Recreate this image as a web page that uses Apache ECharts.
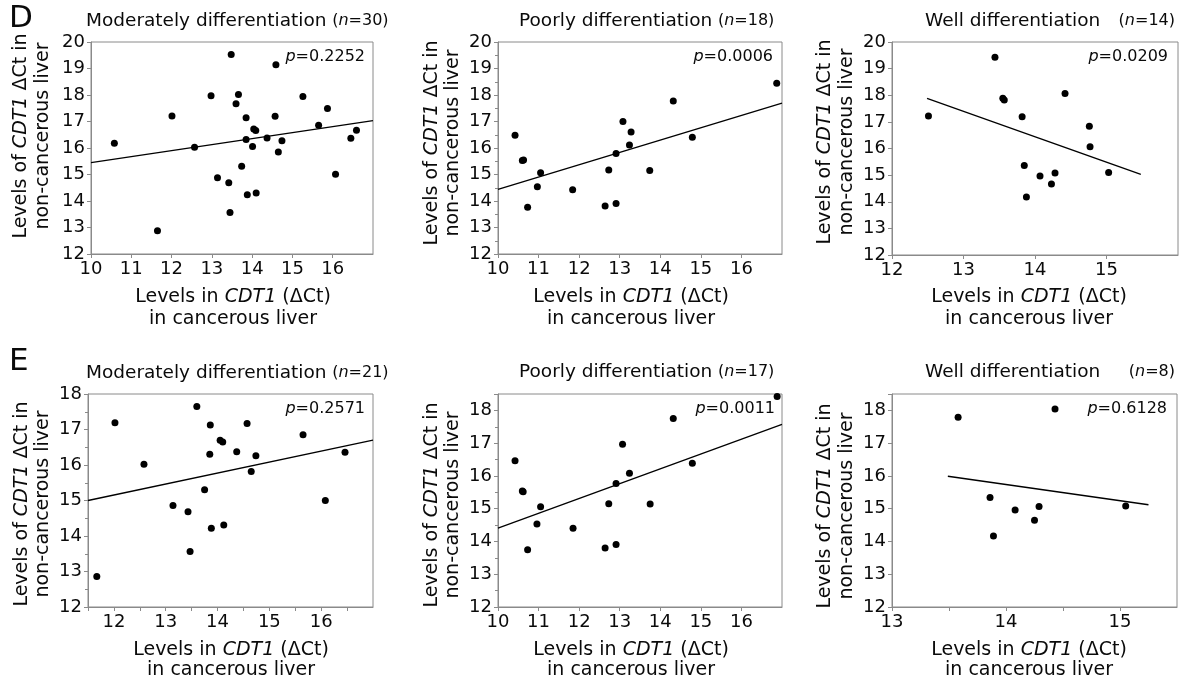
<!DOCTYPE html>
<html><head><meta charset="utf-8">
<script src="https://cdn.jsdelivr.net/npm/echarts@6/dist/echarts.min.js"></script>
<style>html,body{margin:0;padding:0;background:#fff}#c{width:1180px;height:684px}</style>
</head><body><div id="c"></div>
<script>
// ---------- data ----------
// Row D
const modD_x = [10.58,11.65,12.01,12.57,12.98,13.14,13.42,13.48,13.45,13.60,13.66,13.74,13.85,13.85,13.88,14.01,14.04,14.09,14.10,14.37,14.57,14.59,14.65,14.74,15.26,15.65,15.87,16.07,16.45,16.59];
const modD_y = [16.18,12.88,17.21,16.03,17.97,14.88,14.69,19.53,13.57,17.67,18.02,15.31,17.14,16.32,14.24,16.06,16.72,16.66,14.30,16.38,17.20,19.14,15.85,16.27,17.94,16.86,17.49,15.01,16.37,16.67];
const modD_fitX = [10, 17], modD_fitY = [15.45, 17.03];

const poorD_x = [10.42,10.63,10.60,10.73,10.97,11.05,11.84,12.64,12.73,12.91,12.91,13.08,13.24,13.28,13.74,14.32,14.79,16.87];
const poorD_y = [16.48,15.55,15.53,13.76,14.54,15.07,14.42,13.81,15.17,13.91,15.79,17.00,16.11,16.60,15.15,17.77,16.41,18.44];
const poorD_fitX = [10, 17], poorD_fitY = [14.44, 17.69];

const wellD_x = [12.51,13.44,13.55,13.57,13.82,13.85,13.88,14.07,14.23,14.28,14.42,14.76,14.77,15.03];
const wellD_y = [17.22,19.43,17.89,17.82,17.19,15.36,14.18,14.97,14.67,15.08,18.07,16.84,16.07,15.10];
const wellD_fitX = [12.49, 15.48], wellD_fitY = [17.88, 15.03];

// Row E
const modE_x = [11.67,12.02,12.58,13.14,13.43,13.47,13.60,13.75,13.86,13.85,13.88,14.05,14.10,14.12,14.37,14.57,14.65,14.74,15.65,16.08,16.46];
const modE_y = [12.86,17.19,16.02,14.86,14.68,13.56,17.65,15.30,17.13,16.30,14.22,16.70,16.65,14.31,16.37,17.17,15.82,16.26,16.85,15.00,16.36];
const modE_fitX = [11.5, 17], modE_fitY = [15.00, 16.70];

const poorE_x = [10.42,10.62,10.60,10.73,10.96,11.05,11.85,12.64,12.73,12.91,12.91,13.07,13.24,13.75,14.32,14.79,16.88];
const poorE_y = [16.46,15.52,15.54,13.75,14.53,15.06,14.40,13.80,15.15,13.91,15.77,16.97,16.08,15.14,17.75,16.39,18.42];
const poorE_fitX = [10, 17], poorE_fitY = [14.41, 17.57];

const wellE_x = [13.58,13.86,13.89,14.08,14.25,14.29,14.43,15.05];
const wellE_y = [17.79,15.34,14.17,14.96,14.65,15.07,18.04,15.08];
const wellE_fitX = [13.49, 15.25], wellE_fitY = [15.99, 15.12];

// texts
const groupNames = ['Moderately differentiation', 'Poorly differentiation', 'Well differentiation'];
const nD = ['30', '18', '14'];
const nE = ['21', '17', '8'];
const pD = ['0.2252', '0.0006', '0.0209'];
const pE = ['0.2571', '0.0011', '0.6128'];
const rowLetters = ['D', 'E'];

// axis ranges [min, max, interval]
const xRange = [[10,17,1],[10,17,1],[12,16,1],[11.5,17,0.5],[10,17,1],[13,15.5,0.5]];
const yRange = [[12,20,1],[12,20,1],[12,20,1],[12,18,1],[12,18.5,1],[12,18.5,1]];

// ---------- layout ----------
const FONT = '"DejaVu Sans", Verdana, sans-serif';
const AX = '#8a8a8a';
const TXT = '#0a0a0a';
const grids = [[91,42,282,212],[498,42,284,212],[892,42,286,213],[88,394,285,213],[498,394,284,213],[892,394,285,213]];
const yMinor = [false,true,false,true,true,false];
const panels = [
  [modD_x, modD_y, modD_fitX, modD_fitY],
  [poorD_x, poorD_y, poorD_fitX, poorD_fitY],
  [wellD_x, wellD_y, wellD_fitX, wellD_fitY],
  [modE_x, modE_y, modE_fitX, modE_fitY],
  [poorE_x, poorE_y, poorE_fitX, poorE_fitY],
  [wellE_x, wellE_y, wellE_fitX, wellE_fitY]
];

const zip = (a, b) => a.map((v, i) => [v, b[i]]);
const option = { animation: false, grid: [], xAxis: [], yAxis: [], series: [], graphic: [] };

grids.forEach((g, i) => {
  option.grid.push({ left: g[0], top: g[1], width: g[2], height: g[3], show: true, borderColor: AX, borderWidth: 1, backgroundColor: 'transparent' });
  const xr = xRange[i], yr = yRange[i];
  option.xAxis.push({
    type: 'value', gridIndex: i, min: xr[0], max: xr[1], interval: xr[2],
    axisLine: { show: true, onZero: false, lineStyle: { color: AX, width: 1 } },
    axisTick: { show: true, length: 4, lineStyle: { color: AX } },
    splitLine: { show: false },
    axisLabel: { color: TXT, fontSize: 18, fontFamily: FONT, margin: 6, showMaxLabel: false,
      formatter: v => (Math.abs(v - Math.round(v)) < 1e-9 && Math.abs(v - xr[1]) > 1e-9) ? String(Math.round(v)) : '' }
  });
  option.yAxis.push({
    type: 'value', gridIndex: i, min: yr[0], max: yr[1], interval: yr[2],
    axisLine: { show: true, onZero: false, lineStyle: { color: AX, width: 1 } },
    axisTick: { show: true, length: 4, lineStyle: { color: AX } },
    minorTick: { show: yMinor[i], splitNumber: 2, length: 3, lineStyle: { color: AX } },
    splitLine: { show: false },
    axisLabel: { color: TXT, fontSize: 18, fontFamily: FONT, margin: 6,
      formatter: v => (Math.abs(v - Math.round(v)) < 1e-9) ? String(Math.round(v)) : '' }
  });
  const p = panels[i];
  option.series.push({ type: 'scatter', xAxisIndex: i, yAxisIndex: i, data: zip(p[0], p[1]), symbol: 'circle', symbolSize: 7, itemStyle: { color: '#000', opacity: 1 }, silent: true, z: 3 });
  option.series.push({ type: 'line', xAxisIndex: i, yAxisIndex: i, data: zip(p[2], p[3]), symbol: 'none', lineStyle: { color: '#000', width: 1.3 }, silent: true, z: 2 });
});

// ---------- text elements ----------
const G = option.graphic;
function T(x, y, text, rich, align, vAlign, rot, base) {
  G.push({ type: 'text', x: x, y: y, rotation: rot || 0, silent: true,
    style: Object.assign({ text: text, rich: rich, align: align, verticalAlign: vAlign, fill: TXT, fontSize: 18, fontFamily: FONT }, base || {}) });
}
const richAxis = { n: { fontSize: 19, fontFamily: FONT, fill: TXT }, i: { fontSize: 19, fontFamily: FONT, fontStyle: 'italic', fill: TXT } };
const richTitle = { t: { fontSize: 18.5, fontFamily: FONT, fill: TXT }, s: { fontSize: 16, fontFamily: FONT, fill: TXT }, si: { fontSize: 16, fontFamily: FONT, fontStyle: 'italic', fill: TXT } };
const richP = { n: { fontSize: 16, fontFamily: FONT, fill: TXT }, i: { fontSize: 16, fontFamily: FONT, fontStyle: 'italic', fill: TXT } };

// row letters
T(9, 19, rowLetters[0], null, 'left', 'middle', 0, { fontSize: 31 });
T(9, 362, rowLetters[1], null, 'left', 'middle', 0, { fontSize: 31 });

// titles
const titleCY = [21, 21, 21, 373, 372, 372];
const titleLeft = [86, 519, 925, 86, 519, 925];
for (let i = 0; i < 6; i++) {
  const k = i % 3;
  const n = i < 3 ? nD[k] : nE[k];
  if (k < 2) {
    T(titleLeft[i], titleCY[i], '{t|' + groupNames[k] + '} {s|(}{si|n}{s|=' + n + ')}', richTitle, 'left', 'middle', 0, { fontSize: 18 });
  } else {
    T(titleLeft[i], titleCY[i], '{t|' + groupNames[k] + '}', richTitle, 'left', 'middle', 0);
    T(1175, titleCY[i], '{s|(}{si|n}{s|=' + n + ')}', richTitle, 'right', 'middle', 0);
  }
}

// p values
const pRight = [365, 773, 1168, 365, 775, 1167];
const pCY = [56.5, 56.5, 56.5, 409, 409, 409];
for (let i = 0; i < 6; i++) {
  const pv = i < 3 ? pD[i] : pE[i - 3];
  T(pRight[i], pCY[i], '{i|p}{n|=' + pv + '}', richP, 'right', 'middle', 0);
}

// x-axis titles
const xtCX = [233, 631, 1029, 231, 631, 1029];
const xtY1 = [297.5, 297.5, 297.5, 650, 650, 650];
const xtY2 = [319, 319, 319, 670.5, 670.5, 670.5];
for (let i = 0; i < 6; i++) {
  T(xtCX[i], xtY1[i], '{n|Levels in }{i|CDT1}{n| (\u0394Ct)}', richAxis, 'center', 'middle', 0);
  T(xtCX[i], xtY2[i], '{n|in cancerous liver}', richAxis, 'center', 'middle', 0);
}

// y-axis titles (rotated)
const ytX1 = [20.7, 431.7, 825, 21.7, 431.7, 825];
const ytX2 = [43.3, 453.3, 846.7, 43.3, 453.3, 846.7];
const ytCY = [136, 143, 142, 504, 505, 506];
for (let i = 0; i < 6; i++) {
  T(ytX1[i], ytCY[i], '{n|Levels of }{i|CDT1}{n| \u0394Ct in}', richAxis, 'center', 'middle', Math.PI / 2);
  T(ytX2[i], ytCY[i], '{n|non-cancerous liver}', richAxis, 'center', 'middle', Math.PI / 2);
}

const chart = echarts.init(document.getElementById('c'), null, { renderer: 'canvas' });
chart.setOption(option);
</script>
</body></html>
